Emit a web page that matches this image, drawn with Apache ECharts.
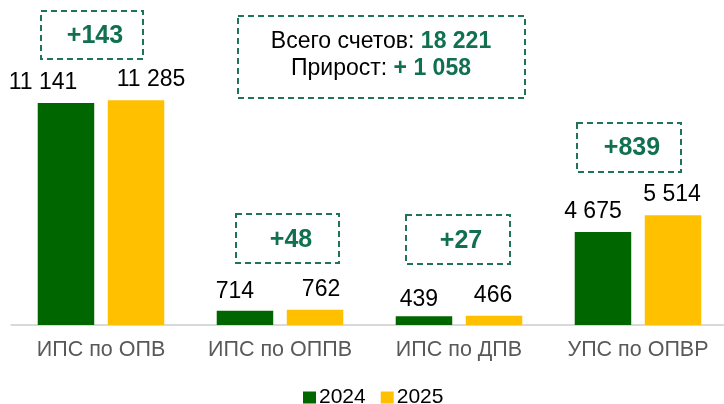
<!DOCTYPE html>
<html>
<head>
<meta charset="utf-8">
<script src="https://cdn.jsdelivr.net/npm/echarts@6/dist/echarts.min.js"></script>
<style>
  html, body { margin: 0; padding: 0; background: #fff; }
  #chart { width: 724px; height: 404px; }
</style>
</head>
<body>
<div id="chart"></div>
<script>
const categories = ['ИПС по ОПВ', 'ИПС по ОППВ', 'ИПС по ДПВ', 'УПС по ОПВР'];
const seriesNames = ['2024', '2025'];
const values2024 = [11141, 714, 439, 4675];
const values2025 = [11285, 762, 466, 5514];
const deltaLabels = ['+143', '+48', '+27', '+839'];
const totalLabel = 'Всего счетов: ';
const totalValue = '18 221';
const growthLabel = 'Прирост: ';
const growthValue = '+ 1 058';

// label nudges (layout only)
const labelShift2024 = [[-23, 0], [-10, 1], [-5, 4], [-10, 0]];
const labelShift2025 = [[15, 0], [6, 0], [-1, 0], [-1, 0]];

const FONT = 'Liberation Sans, Arial, sans-serif';
const GREEN_TXT = '#11704F';
const BOX = '#1F7455';

function fmt(v) {
  return String(v).replace(/\B(?=(\d{3})+(?!\d))/g, ' ');
}

const chart = echarts.init(document.getElementById('chart'), null, { renderer: 'canvas' });

const boxes = [
  { x: 41, y: 11, w: 102, h: 48, tx: 95, ty: 36 },
  { x: 236, y: 214, w: 103, h: 49, tx: 291, ty: 240 },
  { x: 406, y: 215, w: 104, h: 49, tx: 461, ty: 241 },
  { x: 577, y: 123, w: 104, h: 49, tx: 632, ty: 148 }
];

const graphics = [];
boxes.forEach((b, i) => {
  graphics.push({
    type: 'rect', silent: true,
    shape: { x: b.x, y: b.y, width: b.w, height: b.h },
    style: { fill: 'none', stroke: BOX, lineWidth: 2, lineDash: [6, 4] }
  });
  graphics.push({
    type: 'text', silent: true, x: b.tx, y: b.ty,
    style: {
      text: deltaLabels[i], fill: GREEN_TXT,
      font: 'bold 25px ' + FONT, textAlign: 'center', textVerticalAlign: 'middle'
    }
  });
});
graphics.push({
  type: 'rect', silent: true,
  shape: { x: 238, y: 16, width: 287, height: 82 },
  style: { fill: 'none', stroke: BOX, lineWidth: 2, lineDash: [6, 4] }
});
graphics.push({
  type: 'text', silent: true, x: 381, y: 55,
  style: {
    text: '{a|' + totalLabel + '}{b|' + totalValue + '}\n{a|' + growthLabel + '}{b|' + growthValue + '}',
    textAlign: 'center', textVerticalAlign: 'middle',
    rich: {
      a: { fontSize: 23, fontFamily: FONT, fill: '#000', lineHeight: 27 },
      b: { fontSize: 23, fontFamily: FONT, fontWeight: 'bold', fill: GREEN_TXT, lineHeight: 27 }
    }
  }
});

function makeData(values, shifts) {
  return values.map((v, i) => ({
    value: v,
    label: { offset: shifts[i] }
  }));
}

const labelCfg = {
  show: true, position: 'top', distance: 9,
  fontSize: 23, fontFamily: FONT, color: '#000',
  formatter: p => fmt(p.value)
};

chart.setOption({
  animation: false,
  backgroundColor: '#fff',
  grid: { left: 11.5, width: 716, top: 86, bottom: 79, containLabel: false, outerBoundsMode: 'none' },
  legend: {
    data: seriesNames,
    left: 298, top: 382,
    icon: 'rect', itemWidth: 13, itemHeight: 12, itemGap: 15,
    textStyle: { fontSize: 21, fontFamily: FONT, color: '#000', padding: [0, 0, 0, -2] }
  },
  xAxis: {
    type: 'category', data: categories,
    axisLine: { show: true, lineStyle: { color: '#D9D9D9', width: 2 } },
    axisTick: { show: false },
    axisLabel: { interval: 0, fontSize: 21.5, fontFamily: FONT, color: '#595959', margin: 14 }
  },
  yAxis: {
    type: 'value', min: 0, max: 12000,
    show: false, splitLine: { show: false }
  },
  series: [
    {
      name: seriesNames[0], type: 'bar', data: makeData(values2024, labelShift2024),
      barWidth: 56.5, barGap: '24%',
      itemStyle: { color: '#006600' },
      label: labelCfg
    },
    {
      name: seriesNames[1], type: 'bar', data: makeData(values2025, labelShift2025),
      barWidth: 56.5, barGap: '24%',
      itemStyle: { color: '#FFC000' },
      label: labelCfg
    }
  ],
  graphic: graphics
});
</script>
</body>
</html>
